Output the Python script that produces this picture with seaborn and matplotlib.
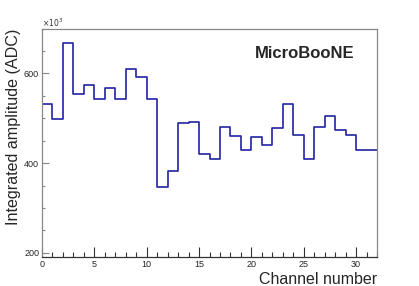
import numpy as np
import pandas as pd
import matplotlib
matplotlib.use("Agg")
import matplotlib.pyplot as plt
from matplotlib.ticker import MultipleLocator
import seaborn as sns

# ================= DATA =================
channels = list(range(32))
# integrated amplitude per channel, in units of 10^3 ADC
amplitude_k = [532, 498, 668, 555, 575, 542, 568, 542, 610, 592,
               542, 348, 382, 490, 492, 421, 409, 480, 461, 430,
               458, 441, 479, 532, 463, 409, 481, 506, 475, 462,
               430, 430]

x_label = "Channel number"
y_label = "Integrated amplitude (ADC)"
tag = "MicroBooNE"

df = pd.DataFrame({"channel": np.array(channels) + 0.5, "amp": amplitude_k})

# ================= STYLE =================
sns.set_style("white")
plt.rcParams["font.family"] = ["Liberation Sans", "DejaVu Sans"]

fig = plt.figure(figsize=(4.19, 2.86), dpi=100)
ax = fig.add_axes([0.1, 0.1, 0.8, 0.8])

sns.histplot(data=df, x="channel", weights="amp", bins=32, binrange=(0, 32),
             element="step", fill=False, color="#2323a6", linewidth=1.2, ax=ax)

ax.set_xlim(0, 32)
ax.set_ylim(190, 700)

ax.xaxis.set_major_locator(MultipleLocator(5))
ax.xaxis.set_minor_locator(MultipleLocator(1))
ax.yaxis.set_major_locator(MultipleLocator(200))
ax.yaxis.set_minor_locator(MultipleLocator(50))

ax.tick_params(axis="x", which="both", bottom=True, top=False)
ax.tick_params(axis="y", which="both", left=True, right=False)
ax.tick_params(axis="x", which="major", direction="in", length=7, width=0.8,
               color="#333333", labelsize=6.5, pad=2)
ax.tick_params(axis="x", which="minor", direction="in", length=3.5, width=0.8,
               color="#333333")
ax.tick_params(axis="y", which="major", direction="in", length=5, width=0.8,
               color="#888888", labelsize=6.5, pad=2)
ax.tick_params(axis="y", which="minor", direction="in", length=2.5, width=0.8,
               color="#888888")

for side in ["top", "right", "left"]:
    ax.spines[side].set_color("#888888")
    ax.spines[side].set_linewidth(0.9)
ax.spines["bottom"].set_color("#333333")
ax.spines["bottom"].set_linewidth(0.9)

ax.set_xlabel(x_label, fontsize=11.5, ha="right", x=1.0, labelpad=2)
ax.set_ylabel(y_label, fontsize=11.6, ha="right", y=1.0, labelpad=2)

ax.text(0.0, 1.006, r"$\times10^{3}$", transform=ax.transAxes, fontsize=5.5,
        ha="left", va="baseline", color="#333333")
ax.text(0.933, 0.889, tag, transform=ax.transAxes, fontsize=12,
        fontweight="bold", ha="right", va="center")

fig.savefig("out.png", dpi=100)
plt.close(fig)
